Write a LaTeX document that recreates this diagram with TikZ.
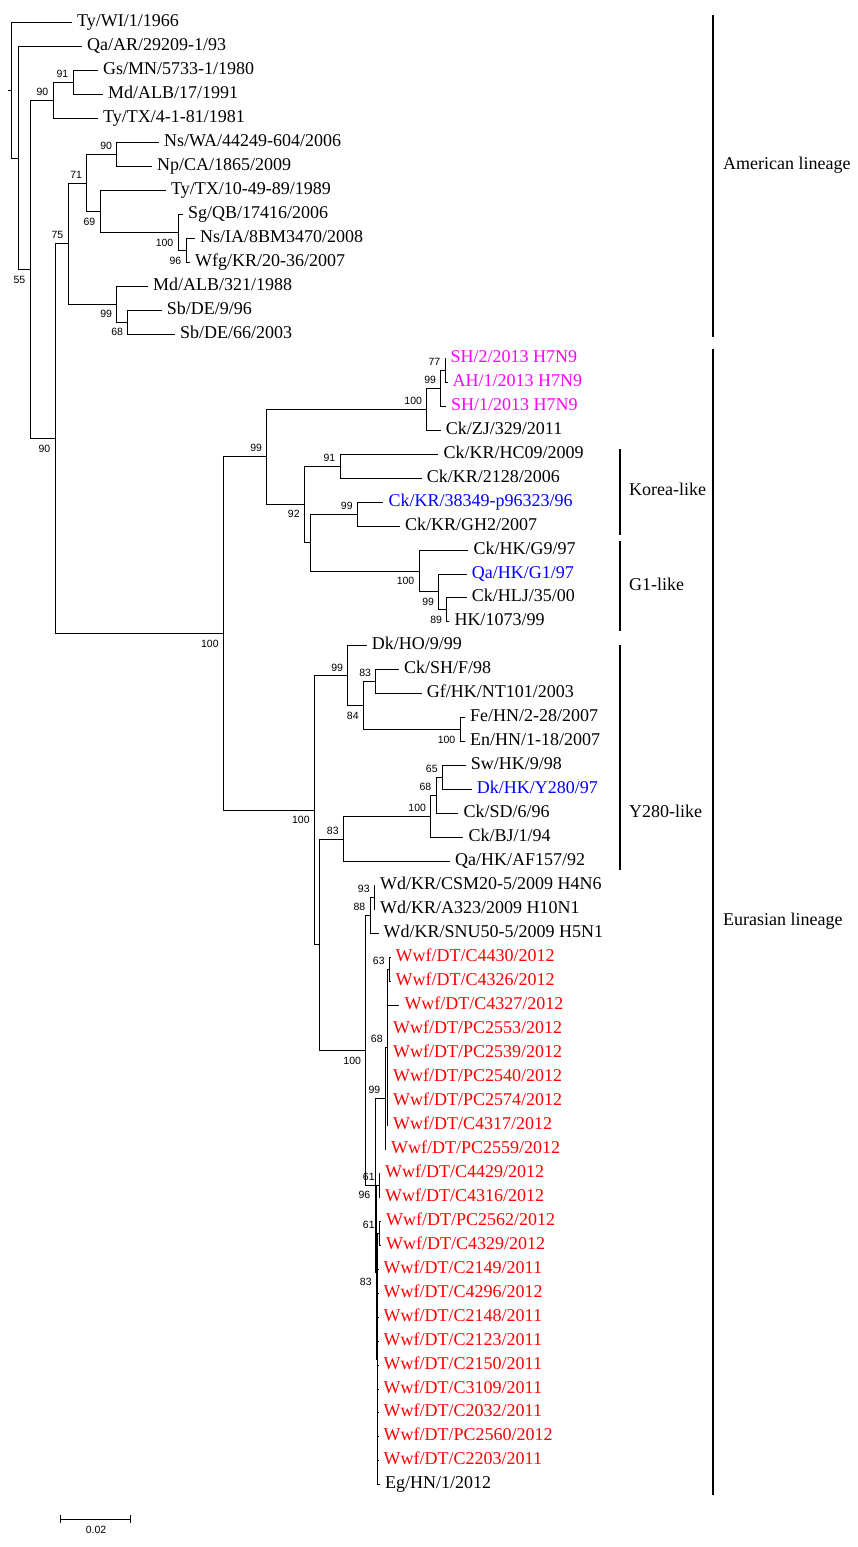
\documentclass[tikz,border=0pt]{standalone}
\usepackage{fontspec}
\setmainfont{Liberation Serif}
\newfontfamily\bsfamily{Liberation Sans}
\definecolor{hmag}{RGB}{255,0,255}
\definecolor{hblue}{RGB}{0,0,255}
\definecolor{hred}{RGB}{255,0,0}
\newcommand{\pxy}[1]{((#1-22.7)/23.97)}
\begin{document}
\begin{tikzpicture}[x=1pt,y=-23.97pt,
  tree/.style={line width=1pt},
  bar/.style={line width=1.3pt},
  leaf/.style={anchor=west,inner xsep=5pt,inner ysep=0pt,text height=8pt,text depth=0pt,font=\fontsize{18pt}{20pt}\selectfont},
  clade/.style={anchor=west,inner sep=0pt,text height=8pt,text depth=0pt,font=\fontsize{18pt}{20pt}\selectfont},
  bsa/.style={anchor=east,inner sep=0pt,xshift=-4.5pt,yshift=8.5pt,font=\bsfamily\fontsize{10.5pt}{12pt}\selectfont},
  bsb/.style={anchor=east,inner sep=0pt,xshift=-4.5pt,yshift=-10pt,font=\bsfamily\fontsize{10.5pt}{12pt}\selectfont},
  mg/.style={text=hmag}, bl/.style={text=hblue}, rd/.style={text=hred}]
\useasboundingbox (0,{\pxy{0}}) rectangle (857,{\pxy{1547}});
% ---------- leaves ----------
\node[leaf] (L0) at (72,0) {Ty/WI/1/1966};
\node[leaf] (L1) at (82,1) {Qa/AR/29209-1/93};
\node[leaf] (L2) at (98,2) {Gs/MN/5733-1/1980};
\node[leaf] (L3) at (103,3) {Md/ALB/17/1991};
\node[leaf] (L4) at (98,4) {Ty/TX/4-1-81/1981};
\node[leaf] (L5) at (159,5) {Ns/WA/44249-604/2006};
\node[leaf] (L6) at (152,6) {Np/CA/1865/2009};
\node[leaf] (L7) at (166,7) {Ty/TX/10-49-89/1989};
\node[leaf] (L8) at (183,8) {Sg/QB/17416/2006};
\node[leaf] (L9) at (195,9) {Ns/IA/8BM3470/2008};
\node[leaf] (L10) at (190,10) {Wfg/KR/20-36/2007};
\node[leaf] (L11) at (148,11) {Md/ALB/321/1988};
\node[leaf] (L12) at (161.7,12) {Sb/DE/9/96};
\node[leaf] (L13) at (175,13) {Sb/DE/66/2003};
\node[leaf,mg] (L14) at (445.5,14) {SH/2/2013 H7N9};
\node[leaf,mg] (L15) at (447.5,15) {AH/1/2013 H7N9};
\node[leaf,mg] (L16) at (446,16) {SH/1/2013 H7N9};
\node[leaf] (L17) at (440.7,17) {Ck/ZJ/329/2011};
\node[leaf] (L18) at (438.3,18) {Ck/KR/HC09/2009};
\node[leaf] (L19) at (421.7,19) {Ck/KR/2128/2006};
\node[leaf,bl] (L20) at (383.3,20) {Ck/KR/38349-p96323/96};
\node[leaf] (L21) at (400,21) {Ck/KR/GH2/2007};
\node[leaf] (L22) at (468.3,22) {Ck/HK/G9/97};
\node[leaf,bl] (L23) at (466.7,23) {Qa/HK/G1/97};
\node[leaf] (L24) at (466.7,24) {Ck/HLJ/35/00};
\node[leaf] (L25) at (449.3,25) {HK/1073/99};
\node[leaf] (L26) at (366.7,26) {Dk/HO/9/99};
\node[leaf] (L27) at (399,27) {Ck/SH/F/98};
\node[leaf] (L28) at (421.7,28) {Gf/HK/NT101/2003};
\node[leaf] (L29) at (465,29) {Fe/HN/2-28/2007};
\node[leaf] (L30) at (465,30) {En/HN/1-18/2007};
\node[leaf] (L31) at (465.7,31) {Sw/HK/9/98};
\node[leaf,bl] (L32) at (471.7,32) {Dk/HK/Y280/97};
\node[leaf] (L33) at (458.3,33) {Ck/SD/6/96};
\node[leaf] (L34) at (463.3,34) {Ck/BJ/1/94};
\node[leaf] (L35) at (450,35) {Qa/HK/AF157/92};
\node[leaf] (L36) at (375,36) {Wd/KR/CSM20-5/2009 H4N6};
\node[leaf] (L37) at (375,37) {Wd/KR/A323/2009 H10N1};
\node[leaf] (L38) at (378.5,38) {Wd/KR/SNU50-5/2009 H5N1};
\node[leaf,rd] (L39) at (390.5,39) {Wwf/DT/C4430/2012};
\node[leaf,rd] (L40) at (390.5,40) {Wwf/DT/C4326/2012};
\node[leaf,rd] (L41) at (399.3,41) {Wwf/DT/C4327/2012};
\node[leaf,rd] (L42) at (388,42) {Wwf/DT/PC2553/2012};
\node[leaf,rd] (L43) at (388,43) {Wwf/DT/PC2539/2012};
\node[leaf,rd] (L44) at (388,44) {Wwf/DT/PC2540/2012};
\node[leaf,rd] (L45) at (388,45) {Wwf/DT/PC2574/2012};
\node[leaf,rd] (L46) at (388,46) {Wwf/DT/C4317/2012};
\node[leaf,rd] (L47) at (386,47) {Wwf/DT/PC2559/2012};
\node[leaf,rd] (L48) at (380,48) {Wwf/DT/C4429/2012};
\node[leaf,rd] (L49) at (380,49) {Wwf/DT/C4316/2012};
\node[leaf,rd] (L50) at (381,50) {Wwf/DT/PC2562/2012};
\node[leaf,rd] (L51) at (381,51) {Wwf/DT/C4329/2012};
\node[leaf,rd] (L52) at (378.5,52) {Wwf/DT/C2149/2011};
\node[leaf,rd] (L53) at (378.5,53) {Wwf/DT/C4296/2012};
\node[leaf,rd] (L54) at (378.5,54) {Wwf/DT/C2148/2011};
\node[leaf,rd] (L55) at (378.5,55) {Wwf/DT/C2123/2011};
\node[leaf,rd] (L56) at (378.5,56) {Wwf/DT/C2150/2011};
\node[leaf,rd] (L57) at (378.5,57) {Wwf/DT/C3109/2011};
\node[leaf,rd] (L58) at (378.5,58) {Wwf/DT/C2032/2011};
\node[leaf,rd] (L59) at (378.5,59) {Wwf/DT/PC2560/2012};
\node[leaf,rd] (L60) at (378.5,60) {Wwf/DT/C2203/2011};
\node[leaf] (L61) at (380,61) {Eg/HN/1/2012};
% ---------- internal nodes ----------
\coordinate (root) at (11,2.825);
\coordinate (rstub) at (7.5,2.825);
\coordinate (r18) at (18.3,5.65);
\coordinate (r55) at (30,10.30);
\coordinate (a90) at (53,3.25);
\coordinate (a91) at (73,2.5);
\coordinate (r90) at (55,17.351);
\coordinate (b75) at (68,9.219);
\coordinate (b71) at (86.7,6.6875);
\coordinate (b90) at (116.7,5.5);
\coordinate (b69) at (100,7.875);
\coordinate (b100) at (178,8.75);
\coordinate (b96) at (186,9.5);
\coordinate (c99) at (116.7,11.75);
\coordinate (c68) at (127.7,12.5);
\coordinate (e100) at (223.3,25.484);
\coordinate (g99) at (266.7,18.109);
\coordinate (h100) at (426.7,16.125);
\coordinate (h99) at (440.7,15.25);
\coordinate (h77) at (445,14.5);
\coordinate (k92) at (304.3,20.094);
\coordinate (k91) at (340,18.5);
\coordinate (kx) at (310.7,21.6875);
\coordinate (k99) at (357.3,20.5);
\coordinate (m100) at (419,22.875);
\coordinate (m99) at (438.7,23.75);
\coordinate (m89) at (446.7,24.5);
\coordinate (n100) at (314.3,32.859);
\coordinate (q99) at (347.7,27.25);
\coordinate (q84) at (363.3,28.5);
\coordinate (q83) at (375.7,27.5);
\coordinate (q100) at (460,29.5);
\coordinate (pn) at (319.3,38.469);
\coordinate (o83) at (343.3,34.0625);
\coordinate (s100) at (430.7,33.125);
\coordinate (s68) at (436,32.25);
\coordinate (s65) at (442.3,31.5);
\coordinate (t100) at (365.7,42.875);
\coordinate (u88) at (370,37.25);
\coordinate (u93) at (374.3,36.5);
\coordinate (y96) at (375,48.5);
\coordinate (w99) at (385,44.875);
\coordinate (w68) at (387.3,42.75);
\coordinate (w63) at (389.3,39.5);
\coordinate (z83) at (376.3,52.125);
\coordinate (x61a) at (379.3,48.5);
\coordinate (zz) at (377.7,55.75);
\coordinate (x61b) at (379.3,50.5);
% ---------- branches ----------
\draw[tree] (rstub) -- (root)
  (root) |- (L0.west) (root) |- (r18)
  (r18) |- (L1.west) (r18) |- (r55)
  (r55) |- (a90) (r55) |- (r90)
  (a90) |- (a91) (a90) |- (L4.west)
  (a91) |- (L2.west) (a91) |- (L3.west)
  (r90) |- (b75) (r90) |- (e100)
  (b75) |- (b71) (b75) |- (c99)
  (b71) |- (b90) (b71) |- (b69)
  (b90) |- (L5.west) (b90) |- (L6.west)
  (b69) |- (L7.west) (b69) |- (b100)
  (b100) |- (L8.west) (b100) |- (b96)
  (b96) |- (L9.west) (b96) |- (L10.west)
  (c99) |- (L11.west) (c99) |- (c68)
  (c68) |- (L12.west) (c68) |- (L13.west);
\draw[tree] (e100) |- (g99) (e100) |- (n100)
  (g99) |- (h100) (g99) |- (k92)
  (h100) |- (h99) (h100) |- (L17.west)
  (h99) |- (h77) (h99) |- (L16.west)
  (h77) |- (L14.west) (h77) |- (L15.west)
  (k92) |- (k91) (k92) |- (kx)
  (k91) |- (L18.west) (k91) |- (L19.west)
  (kx) |- (k99) (kx) |- (m100)
  (k99) |- (L20.west) (k99) |- (L21.west)
  (m100) |- (L22.west) (m100) |- (m99)
  (m99) |- (L23.west) (m99) |- (m89)
  (m89) |- (L24.west) (m89) |- (L25.west);
\draw[tree] (n100) |- (q99) (n100) |- (pn)
  (q99) |- (L26.west) (q99) |- (q84)
  (q84) |- (q83) (q84) |- (q100)
  (q83) |- (L27.west) (q83) |- (L28.west)
  (q100) |- (L29.west) (q100) |- (L30.west)
  (pn) |- (o83) (pn) |- (t100)
  (o83) |- (s100) (o83) |- (L35.west)
  (s100) |- (s68) (s100) |- (L34.west)
  (s68) |- (s65) (s68) |- (L33.west)
  (s65) |- (L31.west) (s65) |- (L32.west);
\draw[tree] (t100) |- (u88) (t100) |- (y96)
  (u88) |- (u93) (u88) |- (L38.west)
  (u93) |- (L36.west) (u93) |- (L37.west)
  (y96) |- (w99) (y96) |- (z83)
  (w99) |- (w68) (w99) |- (L47.west)
  (w68) |- (w63) (w68) |- (L41.west) (w68) |- (L42.west) (w68) |- (L43.west)
  (w68) |- (L44.west) (w68) |- (L45.west) (w68) |- (L46.west)
  (w63) |- (L39.west) (w63) |- (L40.west)
  (z83) |- (x61a) (z83) |- (zz)
  (x61a) |- (L48.west) (x61a) |- (L49.west)
  (zz) |- (x61b)
  (zz) |- (L52.west) (zz) |- (L53.west) (zz) |- (L54.west) (zz) |- (L55.west)
  (zz) |- (L56.west) (zz) |- (L57.west) (zz) |- (L58.west) (zz) |- (L59.west)
  (zz) |- (L60.west) (zz) |- (L61.west)
  (x61b) |- (L50.west) (x61b) |- (L51.west);
% ---------- bootstrap values ----------
\node[bsa] (v1) at (a91) {91};
\node[bsa] (v2) at (a90) {90};
\node[bsb] (v3) at (r55) {55};
\node[bsa] (v4) at (b90) {90};
\node[bsa] (v5) at (b71) {71};
\node[bsb] (v6) at (b69) {69};
\node[bsb] (v7) at (b100) {100};
\node[bsb] (v8) at (b96) {96};
\node[bsa] (v9) at (b75) {75};
\node[bsb] (v10) at (c99) {99};
\node[bsb] (v11) at (c68) {68};
\node[bsb] (v12) at (r90) {90};
\node[bsa] (v13) at (h77) {77};
\node[bsa] (v14) at (h99) {99};
\node[bsa] (v15) at (h100) {100};
\node[bsa] (v16) at (g99) {99};
\node[bsa] (v17) at (k91) {91};
\node[bsb] (v18) at (k92) {92};
\node[bsa] (v19) at (k99) {99};
\node[bsb] (v20) at (m100) {100};
\node[bsb] (v21) at (m99) {99};
\node[bsb] (v22) at (m89) {89};
\node[bsb] (v23) at (e100) {100};
\node[bsa] (v24) at (q99) {99};
\node[bsa] (v25) at (q83) {83};
\node[bsb] (v26) at (q84) {84};
\node[bsb] (v27) at (q100) {100};
\node[bsa] (v28) at (s65) {65};
\node[bsa] (v29) at (s68) {68};
\node[bsa] (v30) at (s100) {100};
\node[bsa] (v31) at (o83) {83};
\node[bsb] (v32) at (n100) {100};
\node[bsa] (v33) at (u93) {93};
\node[bsa] (v34) at (u88) {88};
\node[bsa] (v35) at (w63) {63};
\node[bsa] (v36) at (w68) {68};
\node[bsa] (v37) at (w99) {99};
\node[bsa] (v38) at (x61a) {61};
\node[bsb] (v39) at (y96) {96};
\node[bsa] (v40) at (x61b) {61};
\node[bsb] (v41) at (z83) {83};
\node[bsb] (v42) at (t100) {100};
% ---------- clade bars ----------
\coordinate (am1) at (713,{\pxy{15}});
\coordinate (am2) at (713,{\pxy{337}});
\coordinate (eu1) at (713,{\pxy{349}});
\coordinate (eu2) at (713,{\pxy{1495}});
\coordinate (ko1) at (620,{\pxy{449}});
\coordinate (ko2) at (620,{\pxy{535}});
\coordinate (g11) at (620,{\pxy{541}});
\coordinate (g12) at (620,{\pxy{631}});
\coordinate (y21) at (620,{\pxy{645}});
\coordinate (y22) at (620,{\pxy{870}});
\draw[bar] (am1) -- (am2);
\draw[bar] (eu1) -- (eu2);
\draw[bar] (ko1) -- (ko2);
\draw[bar] (g11) -- (g12);
\draw[bar] (y21) -- (y22);
\node[clade] (tam) at (723,{\pxy{165}}) {American lineage};
\node[clade] (teu) at (723,{\pxy{921}}) {Eurasian lineage};
\node[clade] (tko) at (629,{\pxy{491}}) {Korea-like};
\node[clade] (tg1) at (629,{\pxy{586}}) {G1-like};
\node[clade] (ty2) at (629,{\pxy{813}}) {Y280-like};
% ---------- scale bar ----------
\coordinate (sb1) at (60.7,{\pxy{1519.3}});
\coordinate (sb2) at (130,{\pxy{1519.3}});
\draw[tree] (sb1) -- (sb2);
\draw[tree] ([yshift=4pt]sb1) -- ([yshift=-4pt]sb1);
\draw[tree] ([yshift=4pt]sb2) -- ([yshift=-4pt]sb2);
\node[anchor=center,inner sep=0pt,font=\bsfamily\fontsize{10.5pt}{12pt}\selectfont] (sbl) at (96,{\pxy{1530}}) {0.02};
\end{tikzpicture}
\end{document}
